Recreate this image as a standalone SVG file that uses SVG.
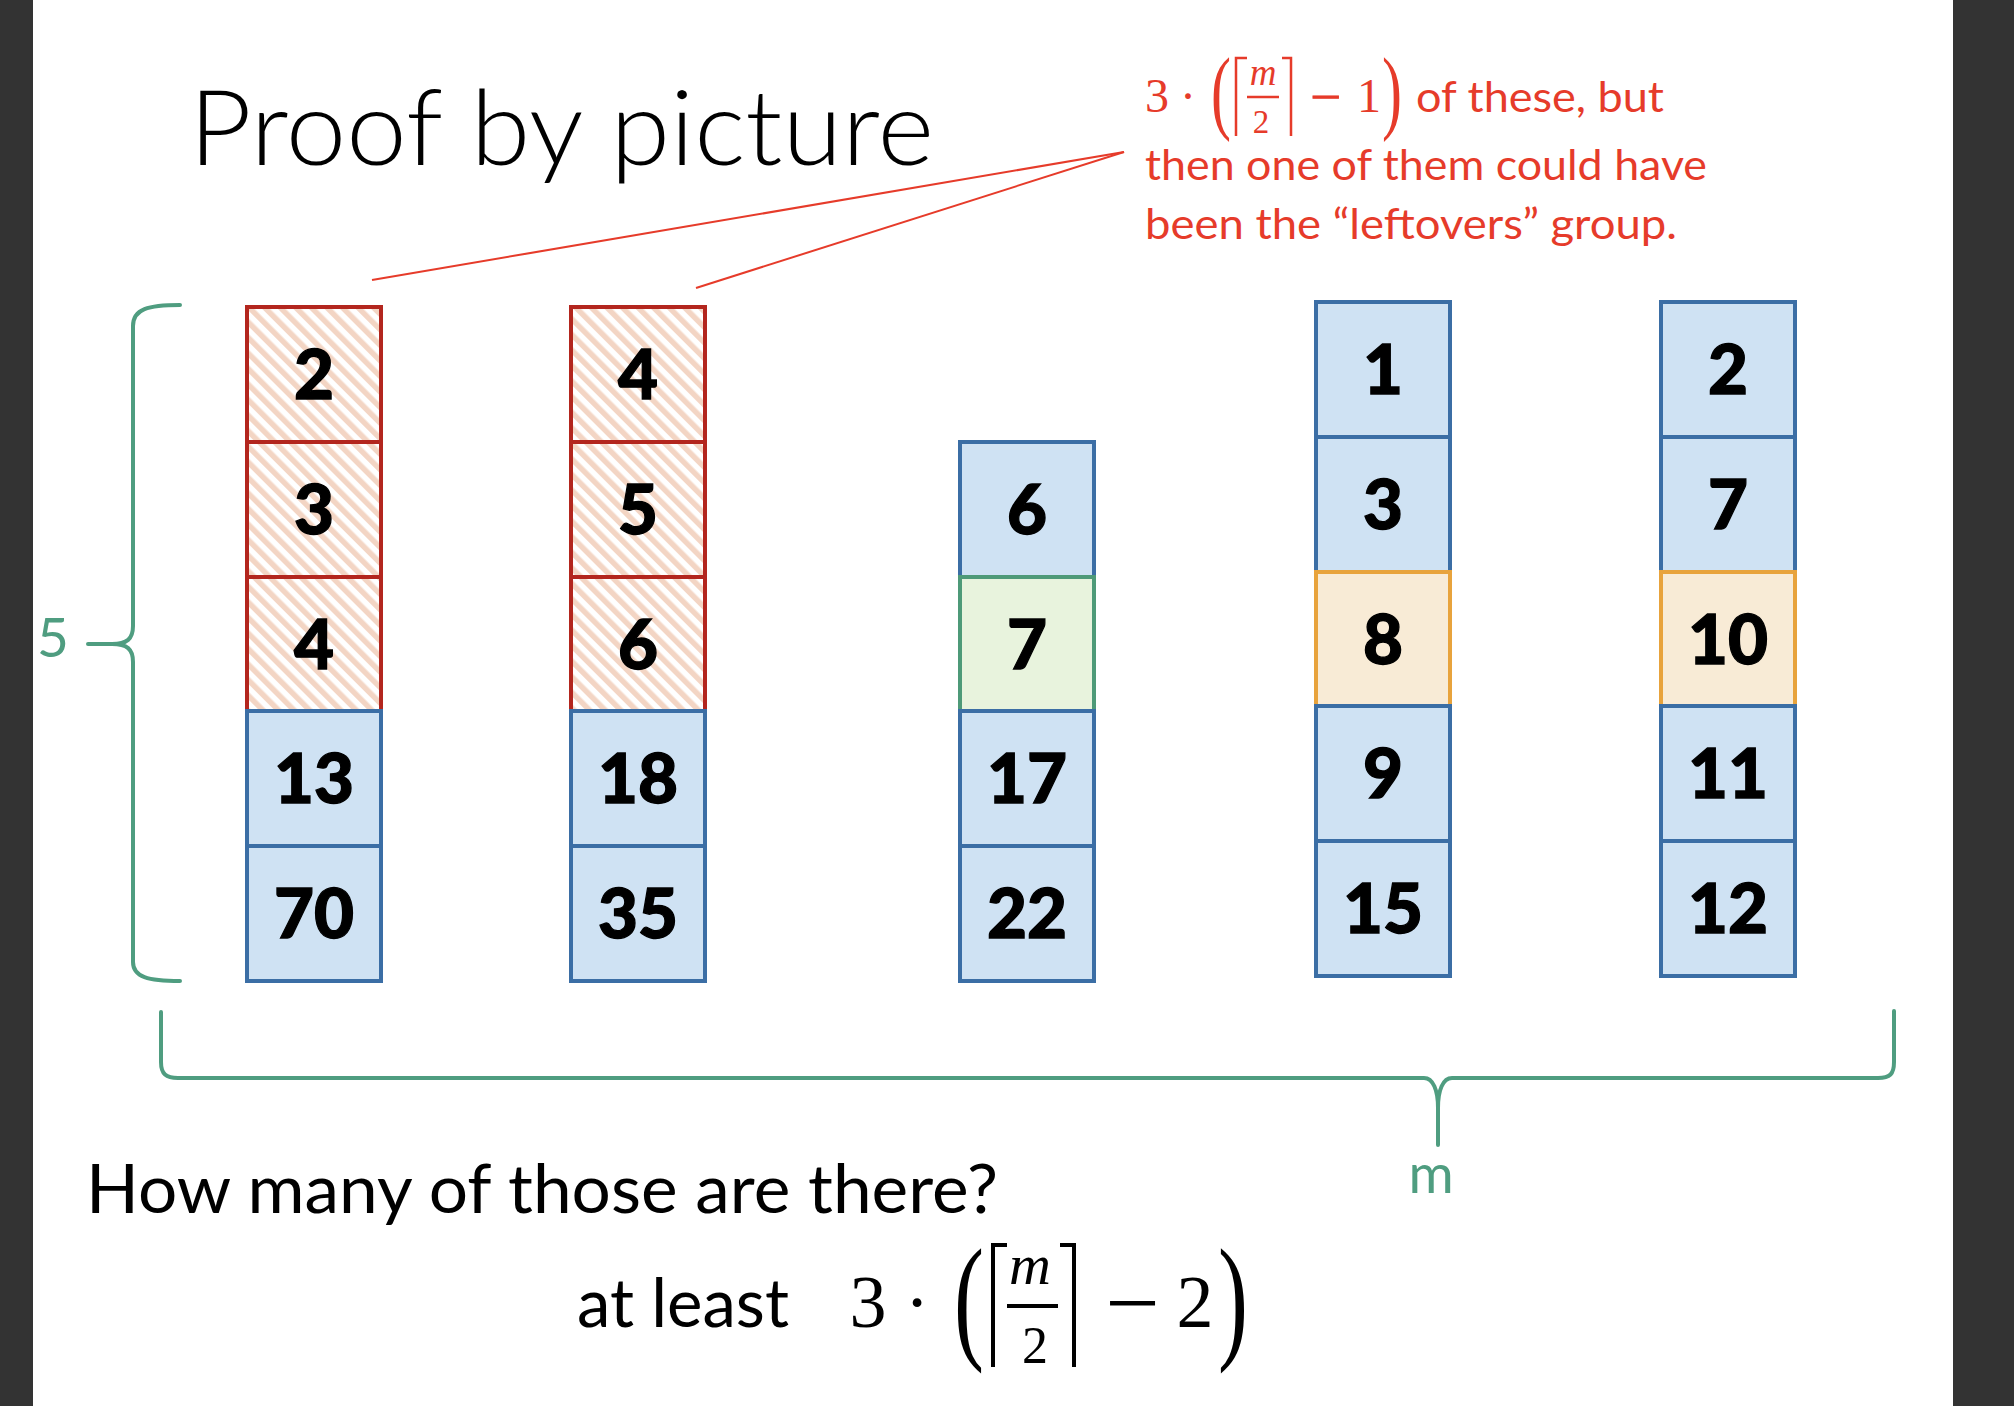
<svg xmlns="http://www.w3.org/2000/svg" width="2014" height="1406" viewBox="0 0 2014 1406">
<defs>
<pattern id="hatch" patternUnits="userSpaceOnUse" width="11" height="11" patternTransform="rotate(-45)">
<rect width="11" height="11" fill="#ffffff"/>
<rect width="5.5" height="11" fill="#F3D5C4"/>
</pattern>
<style>
.cell rect{stroke-width:4}
.blue rect{fill:#CFE2F3;stroke:#3B6EA5}
.red rect{fill:url(#hatch);stroke:#B3261E}
.orange rect{fill:#F8EBD6;stroke:#E8A33C}
.green rect{fill:#E8F3DD;stroke:#4E9A78}
.num{font-family:Lato,"Liberation Sans",sans-serif;font-weight:900;font-size:69px;text-anchor:middle;fill:#000;stroke:#000;stroke-width:1.3}
.brace{fill:none;stroke:#4F9D80;stroke-width:4;stroke-linecap:round}
.glab{font-family:Lato,"Liberation Sans",sans-serif;font-size:55px;fill:#4F9D80}
.redtxt{font-family:Lato,"Liberation Sans",sans-serif;font-size:43px;fill:#E63B2A}
.rmath{font-family:"Liberation Serif",serif;fill:#E63B2A}
.bmath{font-family:"Liberation Serif",serif;fill:#000}
.rline{stroke:#E63B2A;stroke-width:2;fill:none}
.rbr{stroke:#E63B2A;stroke-width:2.5;fill:none}
.bbr{stroke:#000;stroke-width:4;fill:none}
.body{font-family:Lato,"Liberation Sans",sans-serif;font-size:67px;fill:#000}
</style>
</defs>
<rect x="0" y="0" width="2014" height="1406" fill="#ffffff"/>
<rect x="0" y="0" width="33" height="1406" fill="#333333"/>
<rect x="1953" y="0" width="61" height="1406" fill="#333333"/>

<text id="title" x="189" y="165" font-family="Lato, 'Liberation Sans', sans-serif" font-weight="300" font-size="104" textLength="745" lengthAdjust="spacingAndGlyphs">Proof by picture</text>

<g id="connectors">
<line class="rline" x1="1124" y1="152" x2="372" y2="280"/>
<line class="rline" x1="1124" y1="152" x2="696" y2="288"/>
</g>

<g id="note">
<text class="rmath" x="1157" y="112" font-size="48" text-anchor="middle">3</text>
<text class="rmath" x="1188" y="112" font-size="48" text-anchor="middle">·</text>
<text class="rmath" font-size="60" transform="translate(1211,122) scale(1,1.55)">(</text>
<polyline class="rbr" points="1247,58 1236,58 1236,136"/>
<text class="rmath" x="1263" y="85" font-size="37" font-style="italic" text-anchor="middle">m</text>
<line class="rbr" x1="1247" y1="97" x2="1279" y2="97"/>
<text class="rmath" x="1261" y="133" font-size="33" text-anchor="middle">2</text>
<polyline class="rbr" points="1282,58 1291,58 1291,136"/>
<text class="rmath" x="1310" y="113" font-size="48" textLength="31" lengthAdjust="spacingAndGlyphs" stroke="#E63B2A" stroke-width="0.8">−</text>
<text class="rmath" x="1369" y="112" font-size="48" text-anchor="middle">1</text>
<text class="rmath" font-size="60" transform="translate(1382,122) scale(1,1.55)">)</text>
<text class="redtxt" x="1416" y="112" textLength="248" lengthAdjust="spacingAndGlyphs">of these, but</text>
<text class="redtxt" x="1145" y="180" textLength="562" lengthAdjust="spacingAndGlyphs">then one of them could have</text>
<text class="redtxt" x="1145" y="239" textLength="532" lengthAdjust="spacingAndGlyphs">been the “leftovers” group.</text>
</g>

<g id="col1">
<g id="c1-2" class="cell red"><rect x="247" y="307" width="134" height="135"/><text class="num" x="314" y="399">2</text></g>
<g id="c1-3" class="cell red"><rect x="247" y="442" width="134" height="135"/><text class="num" x="314" y="534">3</text></g>
<g id="c1-4" class="cell red"><rect x="247" y="577" width="134" height="134"/><text class="num" x="314" y="669">4</text></g>
<g id="c1-13" class="cell blue"><rect x="247" y="711" width="134" height="135"/><text class="num" x="314" y="803">13</text></g>
<g id="c1-70" class="cell blue"><rect x="247" y="846" width="134" height="135"/><text class="num" x="314" y="938">70</text></g>
</g>
<g id="col2">
<g id="c2-4" class="cell red"><rect x="571" y="307" width="134" height="135"/><text class="num" x="638" y="399">4</text></g>
<g id="c2-5" class="cell red"><rect x="571" y="442" width="134" height="135"/><text class="num" x="638" y="534">5</text></g>
<g id="c2-6" class="cell red"><rect x="571" y="577" width="134" height="134"/><text class="num" x="638" y="669">6</text></g>
<g id="c2-18" class="cell blue"><rect x="571" y="711" width="134" height="135"/><text class="num" x="638" y="803">18</text></g>
<g id="c2-35" class="cell blue"><rect x="571" y="846" width="134" height="135"/><text class="num" x="638" y="938">35</text></g>
</g>
<g id="col3">
<g id="c3-6" class="cell blue"><rect x="960" y="442" width="134" height="135"/><text class="num" x="1027" y="534">6</text></g>
<g id="c3-7" class="cell green"><rect x="960" y="577" width="134" height="134"/><text class="num" x="1027" y="669">7</text></g>
<g id="c3-17" class="cell blue"><rect x="960" y="711" width="134" height="135"/><text class="num" x="1027" y="803">17</text></g>
<g id="c3-22" class="cell blue"><rect x="960" y="846" width="134" height="135"/><text class="num" x="1027" y="938">22</text></g>
</g>
<g id="col4">
<g id="c4-1" class="cell blue"><rect x="1316" y="302" width="134" height="135"/><text class="num" x="1383" y="394">1</text></g>
<g id="c4-3" class="cell blue"><rect x="1316" y="437" width="134" height="135"/><text class="num" x="1383" y="529">3</text></g>
<g id="c4-8" class="cell orange"><rect x="1316" y="572" width="134" height="134"/><text class="num" x="1383" y="664">8</text></g>
<g id="c4-9" class="cell blue"><rect x="1316" y="706" width="134" height="135"/><text class="num" x="1383" y="798">9</text></g>
<g id="c4-15" class="cell blue"><rect x="1316" y="841" width="134" height="135"/><text class="num" x="1383" y="933">15</text></g>
</g>
<g id="col5">
<g id="c5-2" class="cell blue"><rect x="1661" y="302" width="134" height="135"/><text class="num" x="1728" y="394">2</text></g>
<g id="c5-7" class="cell blue"><rect x="1661" y="437" width="134" height="135"/><text class="num" x="1728" y="529">7</text></g>
<g id="c5-10" class="cell orange"><rect x="1661" y="572" width="134" height="134"/><text class="num" x="1728" y="664">10</text></g>
<g id="c5-11" class="cell blue"><rect x="1661" y="706" width="134" height="135"/><text class="num" x="1728" y="798">11</text></g>
<g id="c5-12" class="cell blue"><rect x="1661" y="841" width="134" height="135"/><text class="num" x="1728" y="933">12</text></g>
</g>

<g id="brace-5">
<path class="brace" d="M180,305 C148,305 133,309 133,326 L133,626 C133,639 127,644 112,644 L88,644 M112,644 C127,644 133,649 133,662 L133,962 C133,977 148,981 180,981"/>
<text class="glab" x="37" y="657">5</text>
</g>
<g id="brace-m">
<path class="brace" d="M161,1012 L161,1062 C161,1074 166,1078 178,1078 L1424,1078 C1433,1078 1438,1090 1438,1108 L1438,1145 M1438,1108 C1438,1090 1443,1078 1452,1078 L1878,1078 C1890,1078 1894,1074 1894,1062 L1894,1011"/>
<text class="glab" x="1431" y="1193" text-anchor="middle">m</text>
</g>

<g id="question">
<text class="body" x="86" y="1213" textLength="912" lengthAdjust="spacingAndGlyphs">How many of those are there?</text>
<text class="body" x="577" y="1327" textLength="212" lengthAdjust="spacingAndGlyphs">at least</text>
<text class="bmath" x="868" y="1327" font-size="74" text-anchor="middle">3</text>
<text class="bmath" x="917" y="1327" font-size="74" text-anchor="middle">·</text>
<text class="bmath" font-size="90" transform="translate(954,1344) scale(1,1.52)">(</text>
<polyline class="bbr" points="1007,1245 993,1245 993,1367"/>
<text class="bmath" x="1030" y="1284" font-size="58" font-style="italic" text-anchor="middle">m</text>
<line class="bbr" x1="1007" y1="1306" x2="1058" y2="1306"/>
<text class="bmath" x="1035" y="1363" font-size="52" text-anchor="middle">2</text>
<polyline class="bbr" points="1060,1245 1074,1245 1074,1367"/>
<text class="bmath" x="1106" y="1328" font-size="74" textLength="53" lengthAdjust="spacingAndGlyphs" stroke="#000" stroke-width="1">−</text>
<text class="bmath" x="1195" y="1327" font-size="74" text-anchor="middle">2</text>
<text class="bmath" font-size="90" transform="translate(1218,1344) scale(1,1.52)">)</text>
</g>
</svg>
